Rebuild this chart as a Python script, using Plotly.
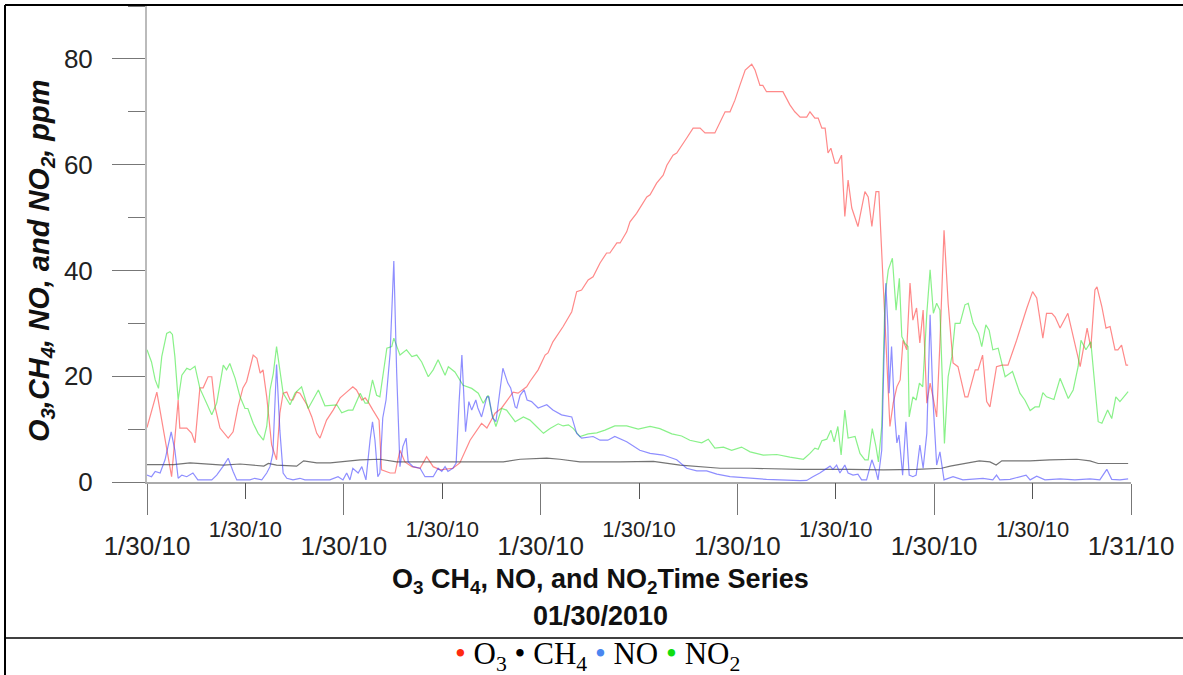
import plotly.graph_objects as go

# ---- data (hours since 1/30/10 00:00, ppm) ----
o3_hours = [0.00, 0.24, 0.60, 0.76, 0.80, 0.97, 1.09, 1.17, 1.29, 1.37, 1.49, 1.58, 1.66, 1.78, 1.98, 2.10,
            2.22, 2.34, 2.43, 2.59, 2.68, 2.76, 2.83, 2.92, 3.04, 3.16, 3.24, 3.32, 3.41, 3.49, 3.56, 3.65,
            3.73, 3.90, 4.02, 4.14, 4.22, 4.38, 4.54, 4.71, 4.87, 5.02, 5.11, 5.24, 5.32, 5.39, 5.51, 5.66,
            5.72, 5.93, 6.05, 6.17, 6.29, 6.46, 6.66, 6.82, 6.98, 7.15, 7.46, 7.63, 7.88, 8.16, 8.29, 8.49,
            8.65, 8.93, 9.05, 9.26, 9.34, 9.54, 9.71, 9.78, 9.90, 10.15, 10.36, 10.48, 10.60, 10.76, 10.88,
            11.05, 11.21, 11.29, 11.46, 11.54, 11.70, 11.78, 11.94, 12.19, 12.27, 12.43, 12.59, 12.68, 12.83,
            12.92, 13.16, 13.32, 13.49, 13.61, 13.85, 13.98, 14.10, 14.22, 14.34, 14.46, 14.59, 14.75, 14.83,
            14.95, 15.02, 15.11, 15.51, 15.68, 15.80, 15.93, 16.09, 16.17, 16.29, 16.37, 16.46, 16.54, 16.61,
            16.68, 16.78, 16.85, 16.94, 17.02, 17.10, 17.19, 17.34, 17.51, 17.59, 17.68, 17.78, 17.85, 17.94,
            18.00, 18.04, 18.12, 18.20, 18.29, 18.37, 18.44, 18.53, 18.61, 18.68, 18.77, 18.85, 18.93, 19.02,
            19.10, 19.17, 19.26, 19.34, 19.44, 19.54, 19.66, 19.78, 19.95, 20.02, 20.20, 20.27, 20.38, 20.48,
            20.56, 20.72, 20.85, 21.00, 21.21, 21.46, 21.60, 21.70, 21.85, 21.94, 22.07, 22.15, 22.27, 22.46,
            22.59, 22.76, 22.93, 23.02, 23.12, 23.17, 23.29, 23.39, 23.49, 23.61, 23.68, 23.77, 23.88, 23.93]
o3_ppm = [10.3, 17.0, 1.0, 15.5, 10.2, 10.2, 9.2, 7.4, 17.8, 17.8, 19.9, 19.9, 14.2, 10.2, 8.3, 9.5,
          14.2, 17.8, 19.0, 24.0, 23.4, 20.6, 21.2, 16.1, 7.0, 4.2, 13.0, 16.8, 17.0, 15.5, 15.5, 17.0,
          16.8, 14.6, 12.3, 9.2, 8.3, 11.7, 13.6, 15.9, 17.0, 18.0, 17.4, 15.5, 15.9, 15.2, 13.6, 11.7,
          2.3, 1.7, 1.7, 6.0, 3.8, 2.9, 2.6, 4.8, 2.9, 2.3, 2.6, 3.6, 7.9, 11.1, 10.2, 13.0,
          14.0, 17.0, 16.8, 18.0, 19.0, 21.2, 24.0, 24.4, 26.5, 29.4, 32.2, 36.0, 36.3, 38.2, 38.8,
          41.4, 43.3, 43.3, 45.2, 45.2, 47.3, 49.2, 50.8, 53.9, 54.3, 56.5, 58.0, 59.9, 61.8,
          62.2, 65.0, 66.9, 66.9, 66.0, 66.0, 68.1, 70.0, 70.0, 72.2, 75.0, 77.9, 79.0, 77.9,
          75.0, 75.0, 73.8, 73.8, 71.3, 70.0, 69.0, 69.0, 70.0, 68.8, 68.8, 66.9, 66.9, 62.2,
          63.1, 60.3, 60.3, 61.8, 50.2, 57.1, 51.8, 48.3, 54.9, 53.9, 48.3, 54.9, 54.9, 40.7,
          29.4, 23.7, 10.5, 14.9, 18.0, 19.3, 26.8, 25.0, 37.6, 30.6, 32.9, 26.3, 32.5, 14.9,
          18.7, 16.1, 12.3, 26.3, 47.6, 33.8, 22.5, 21.8, 16.1, 16.1, 21.2, 21.2, 24.0, 15.2,
          14.2, 21.8, 22.1, 22.1, 26.8, 32.9, 36.0, 34.8, 27.2, 31.9, 31.9, 31.2, 29.1, 31.9,
          27.5, 21.8, 29.1, 25.3, 36.3, 36.9, 33.1, 29.1, 29.4, 25.0, 25.0, 25.9, 22.1, 22.1]

ch4_hours = [0.00, 0.65, 1.05, 1.46, 1.86, 2.27, 2.68, 2.85, 2.96, 3.16, 3.65, 3.82, 4.14, 4.47, 5.20,
             5.68, 6.09, 6.90, 7.88, 8.69, 9.10, 9.75, 10.07, 10.56, 11.54, 12.35, 13.00, 13.49, 13.98,
             14.71, 15.93, 17.15, 17.96, 18.77, 19.38, 19.59, 19.92, 20.30, 20.56, 20.71, 20.85, 21.54,
             22.02, 22.68, 23.00, 23.20, 23.93]
ch4_ppm = [3.3, 3.3, 3.6, 3.4, 3.2, 3.4, 3.2, 3.0, 3.5, 3.2, 3.0, 4.0, 3.6, 3.6, 4.2,
           4.3, 3.8, 3.8, 3.8, 3.8, 4.3, 4.5, 4.3, 3.8, 3.8, 3.9, 3.2, 2.9, 2.6,
           2.6, 2.4, 2.4, 2.3, 2.4, 2.6, 3.0, 3.5, 4.0, 3.8, 3.2, 4.0, 4.0,
           4.2, 4.3, 4.0, 3.5, 3.5]

no_hours = [0.00, 0.11, 0.20, 0.32, 0.44, 0.59, 0.68, 0.76, 0.85, 0.97, 1.12, 1.24, 1.58, 1.70, 1.85, 1.98,
            2.10, 2.19, 2.51, 2.63, 2.80, 2.92, 3.00, 3.07, 3.16, 3.24, 3.32, 3.41, 3.56, 3.73, 3.85, 4.17,
            4.46, 4.66, 4.78, 4.87, 4.95, 5.02, 5.15, 5.24, 5.34, 5.44, 5.50, 5.56, 5.63, 5.68, 5.75, 5.83,
            5.93, 6.02, 6.09, 6.17, 6.24, 6.32, 6.37, 6.49, 6.66, 6.78, 6.98, 7.10, 7.19, 7.27, 7.34, 7.46,
            7.54, 7.61, 7.68, 7.77, 7.85, 7.92, 8.02, 8.07, 8.16, 8.29, 8.34, 8.43, 8.51, 8.61, 8.68, 8.80,
            8.87, 8.98, 9.02, 9.10, 9.20, 9.27, 9.38, 9.54, 9.75, 9.90, 10.11, 10.36, 10.48, 10.60, 10.88,
            11.05, 11.24, 11.41, 11.70, 12.02, 12.27, 12.59, 12.92, 13.16, 13.41, 13.65, 13.90, 14.22, 14.71,
            15.11, 15.93, 16.09, 16.24, 16.41, 16.66, 16.73, 16.82, 16.90, 17.02, 17.10, 17.22, 17.34, 17.43,
            17.55, 17.68, 17.78, 17.83, 17.92, 18.02, 18.07, 18.10, 18.16, 18.24, 18.29, 18.34, 18.43, 18.51,
            18.59, 18.68, 18.76, 18.85, 18.93, 19.02, 19.10, 19.17, 19.26, 19.34, 19.44, 19.66, 19.90, 20.39,
            20.63, 20.72, 20.80, 21.05, 21.44, 21.54, 21.70, 21.90, 22.27, 22.63, 23.00, 23.24, 23.41, 23.53,
            23.73, 23.93]
no_ppm = [1.3, 1.0, 2.0, 1.7, 4.2, 9.5, 6.0, 0.7, 1.3, 1.0, 1.7, 0.4, 0.4, 1.3, 2.9, 4.5,
          2.0, 0.4, 0.4, 0.7, 0.4, 1.7, 2.9, 5.4, 22.2, 9.8, 1.7, 0.7, 0.4, 0.7, 0.4, 0.4,
          0.4, 1.0, 0.4, 1.7, 0.4, 2.6, 1.7, 2.9, 0.4, 7.9, 11.4, 7.9, 1.0, 1.7, 12.1, 15.5,
          24.4, 41.8, 20.6, 2.9, 6.7, 8.3, 3.8, 2.9, 2.6, 1.0, 1.0, 2.6, 2.0, 2.9, 2.0, 2.6,
          3.6, 14.9, 24.0, 9.5, 15.2, 13.6, 15.5, 14.0, 12.3, 16.1, 16.1, 12.1, 11.4, 17.4, 21.5, 18.7,
          17.8, 14.2, 14.0, 16.4, 17.4, 15.5, 15.2, 14.0, 14.6, 13.6, 12.7, 12.3, 9.2, 8.3, 8.6,
          7.9, 7.9, 8.6, 7.6, 6.0, 5.4, 5.1, 4.2, 2.6, 2.1, 2.1, 1.5, 1.0, 0.7,
          0.5, 0.25, 0.3, 1.0, 1.7, 3.0, 2.4, 3.2, 1.7, 3.2, 1.7, 1.3, 1.5, 0.4,
          0.4, 4.2, 2.0, 0.4, 6.0, 37.6, 29.4, 16.8, 25.6, 12.3, 7.4, 8.9, 1.3, 11.4,
          1.3, 1.0, 1.3, 7.0, 2.6, 9.2, 31.6, 15.5, 3.2, 5.7, 0.4, 1.0, 0.4, 0.7,
          0.4, 1.3, 0.4, 0.5, 1.3, 0.4, 1.1, 0.4, 0.6, 0.4, 0.6, 0.4, 2.4, 0.5,
          0.4, 0.6]

no2_hours = [0.00, 0.11, 0.20, 0.28, 0.36, 0.48, 0.56, 0.62, 0.68, 0.76, 0.85, 0.97, 1.05, 1.17, 1.29, 1.41,
             1.58, 1.70, 1.78, 1.86, 1.94, 2.02, 2.15, 2.27, 2.39, 2.46, 2.59, 2.71, 2.84, 2.92, 3.00, 3.08,
             3.16, 3.24, 3.32, 3.49, 3.61, 3.77, 3.93, 4.18, 4.34, 4.63, 4.75, 4.91, 5.02, 5.20, 5.32, 5.39,
             5.50, 5.60, 5.68, 5.85, 5.97, 6.02, 6.17, 6.33, 6.46, 6.58, 6.70, 6.86, 6.98, 7.10, 7.27, 7.35,
             7.51, 7.71, 7.92, 8.08, 8.20, 8.32, 8.41, 8.51, 8.65, 8.77, 8.98, 9.18, 9.34, 9.50, 9.67, 9.83,
             10.03, 10.15, 10.28, 10.40, 10.56, 10.76, 10.97, 11.17, 11.41, 11.70, 11.98, 12.27, 12.51, 12.80,
             13.04, 13.24, 13.53, 13.69, 13.85, 14.06, 14.26, 14.50, 14.71, 15.03, 15.36, 15.68, 16.01, 16.17,
             16.29, 16.37, 16.46, 16.58, 16.68, 16.76, 16.85, 16.93, 17.02, 17.10, 17.27, 17.39, 17.51, 17.59,
             17.69, 17.78, 17.84, 17.92, 18.00, 18.08, 18.18, 18.27, 18.35, 18.41, 18.49, 18.56, 18.59, 18.68,
             18.76, 18.84, 18.92, 19.02, 19.10, 19.18, 19.26, 19.34, 19.45, 19.54, 19.63, 19.71, 19.83, 19.95,
             20.03, 20.15, 20.28, 20.36, 20.46, 20.54, 20.63, 20.76, 20.93, 21.11, 21.29, 21.41, 21.54, 21.66,
             21.76, 21.85, 21.94, 22.12, 22.27, 22.47, 22.59, 22.71, 22.78, 22.90, 23.02, 23.15, 23.20, 23.29,
             23.43, 23.53, 23.63, 23.73, 23.93]
no2_ppm = [25.0, 22.7, 19.3, 17.7, 23.7, 28.1, 28.4, 27.9, 23.7, 15.5, 20.2, 21.5, 21.2, 21.9, 17.7, 15.5,
           12.7, 14.9, 18.7, 22.1, 21.2, 22.4, 19.6, 16.1, 13.9, 13.9, 11.1, 9.2, 7.9, 10.5, 17.4, 20.5,
           25.6, 21.2, 16.8, 14.6, 16.8, 18.0, 13.9, 17.4, 14.4, 14.6, 13.1, 13.6, 13.6, 16.8, 14.9, 14.9,
           19.3, 16.4, 16.1, 25.3, 25.6, 27.2, 24.0, 25.0, 23.7, 24.0, 22.7, 19.9, 21.2, 23.1, 20.2, 21.8,
           20.8, 18.3, 17.7, 16.8, 14.9, 16.4, 13.0, 10.5, 13.9, 13.6, 11.4, 12.3, 11.7, 10.5, 9.2, 10.1,
           11.0, 10.6, 10.8, 10.1, 8.6, 9.1, 9.3, 9.8, 10.6, 10.6, 10.0, 10.5, 10.1, 9.1,
           8.7, 7.9, 7.4, 8.1, 6.4, 6.6, 6.0, 6.6, 5.7, 5.1, 5.2, 4.7, 4.3, 5.4,
           6.4, 6.2, 7.8, 8.1, 9.8, 7.6, 10.5, 5.1, 13.6, 8.3, 8.6, 5.4, 4.2, 4.2,
           10.1, 6.7, 3.8, 10.5, 35.0, 40.1, 42.3, 32.5, 38.5, 27.5, 26.2, 25.6, 12.3, 16.1,
           15.5, 18.7, 18.0, 31.9, 40.1, 31.9, 33.8, 32.5, 7.3, 19.9, 23.7, 30.0, 30.0, 33.5,
           33.8, 30.0, 28.1, 25.6, 29.7, 28.7, 25.0, 25.3, 19.9, 20.9, 16.8, 15.5, 13.5, 14.2,
           14.2, 16.9, 16.1, 15.6, 19.6, 15.8, 17.4, 21.8, 26.8, 25.0, 26.5, 15.5, 11.4, 11.1,
           13.6, 12.0, 16.1, 15.2, 17.1]

# axis ticks
major_tick_hours = [0, 4.8, 9.6, 14.4, 19.2, 24]
major_tick_labels = ["1/30/10", "1/30/10", "1/30/10", "1/30/10", "1/30/10", "1/31/10"]
minor_tick_hours = [2.4, 7.2, 12.0, 16.8, 21.6]
minor_tick_labels = ["1/30/10", "1/30/10", "1/30/10", "1/30/10", "1/30/10"]
y_major_ticks = [0, 20, 40, 60, 80]
y_minor_ticks = [10, 30, 50, 70, 90]

W, H = 1183, 675
L, R, T, B = 147, 52, 6, 193
pw, ph = W - L - R, H - T - B


def px(xp):
    return (xp - L) / pw


def py(yp):
    return (H - B - yp) / ph


fig = go.Figure()
fig.add_trace(go.Scatter(x=o3_hours, y=o3_ppm, mode="lines", name="O3",
                         line=dict(color="rgba(255,40,40,0.55)", width=1.2)))
fig.add_trace(go.Scatter(x=ch4_hours, y=ch4_ppm, mode="lines", name="CH4",
                         line=dict(color="rgba(70,70,70,0.75)", width=1.2)))
fig.add_trace(go.Scatter(x=no2_hours, y=no2_ppm, mode="lines", name="NO2",
                         line=dict(color="rgba(40,230,40,0.55)", width=1.2)))
fig.add_trace(go.Scatter(x=no_hours, y=no_ppm, mode="lines", name="NO",
                         line=dict(color="rgba(50,50,255,0.55)", width=1.2)))
# invisible trace to carry the second (staggered) x axis
fig.add_trace(go.Scatter(x=[0, 24], y=[0, 0], xaxis="x2", mode="lines",
                         line=dict(width=0), hoverinfo="skip", showlegend=False))

tickfont_big = dict(family="Liberation Sans, Arial", size=26, color="#222")
tickfont_small = dict(family="Liberation Sans, Arial", size=22, color="#222")

fig.update_layout(
    width=W, height=H, autosize=False,
    margin=dict(l=L, r=R, t=T, b=B, pad=0),
    paper_bgcolor="white", plot_bgcolor="white",
    showlegend=False,
    xaxis=dict(range=[0, 24], tickmode="array", tickvals=major_tick_hours, ticktext=major_tick_labels,
               ticks="outside", ticklen=31, tickcolor="#777", tickwidth=1.3,
               showline=True, linecolor="#aaa", linewidth=2, showgrid=False, zeroline=False,
               tickfont=tickfont_big, ticklabelstandoff=9, fixedrange=True),
    xaxis2=dict(range=[0, 24], overlaying="x", anchor="y", side="bottom", tickmode="array",
                tickvals=minor_tick_hours, ticktext=minor_tick_labels,
                ticks="outside", ticklen=16, tickcolor="#555", tickwidth=1.3,
                showline=False, showgrid=False, zeroline=False,
                tickfont=tickfont_small, ticklabelstandoff=12),
    yaxis=dict(range=[0, 90], tickmode="array", tickvals=y_major_ticks,
               ticks="outside", ticklen=33, tickcolor="#777", tickwidth=1.3,
               minor=dict(tickmode="array", tickvals=y_minor_ticks, ticklen=17, tickcolor="#777",
                          tickwidth=1.3, ticks="outside"),
               showline=True, linecolor="#bbb", linewidth=2, showgrid=False, zeroline=False,
               tickfont=tickfont_big, ticklabelstandoff=14),
)

# frame lines (table borders)
border = dict(color="black", width=2)
fig.add_shape(type="line", xref="paper", yref="paper", x0=px(5), x1=px(W), y0=py(5), y1=py(5), line=border)
fig.add_shape(type="line", xref="paper", yref="paper", x0=px(5), x1=px(5), y0=py(5), y1=py(H), line=border)
fig.add_shape(type="line", xref="paper", yref="paper", x0=px(5), x1=px(W), y0=py(638), y1=py(638),
              line=dict(color="black", width=1.5))

# axis titles
fig.add_annotation(xref="paper", yref="paper", x=px(41), y=py(261), textangle=-90, showarrow=False,
                   xanchor="center", yanchor="middle",
                   text="<b><i>O<sub>3</sub>,CH<sub>4</sub>, NO, and NO<sub>2</sub>, ppm</i></b>",
                   font=dict(family="Liberation Sans, Arial", size=29, color="#111"))
fig.add_annotation(xref="paper", yref="paper", x=px(600), y=py(581), showarrow=False,
                   xanchor="center", yanchor="middle",
                   text="<b>O<sub>3</sub> CH<sub>4</sub>, NO, and NO<sub>2</sub>Time Series</b>",
                   font=dict(family="Liberation Sans, Arial", size=27, color="#111"))
fig.add_annotation(xref="paper", yref="paper", x=px(600), y=py(616), showarrow=False,
                   xanchor="center", yanchor="middle",
                   text="<b>01/30/2010</b>",
                   font=dict(family="Liberation Sans, Arial", size=27, color="#111"))

# legend row
legend_text = ("<span style='color:#ff2a10'>•</span> O<sub>3</sub> "
               "<span style='color:#000000'>•</span> CH<sub>4</sub> "
               "<span style='color:#4a86f0'>•</span> NO "
               "<span style='color:#10dd10'>•</span> NO<sub>2</sub>")
fig.add_annotation(xref="paper", yref="paper", x=px(597), y=py(656), showarrow=False,
                   xanchor="center", yanchor="middle", text=legend_text,
                   font=dict(family="Liberation Serif, Times New Roman", size=31, color="#000"))

fig.write_html("out.html")
